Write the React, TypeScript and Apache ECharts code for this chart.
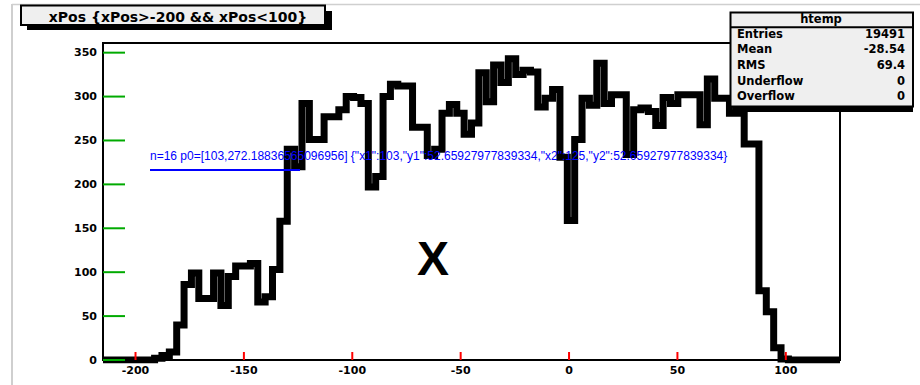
import React, { useEffect, useRef } from 'react';
import * as echarts from 'echarts';

// ---- data ----
const histTitle = 'xPos {xPos>-200 && xPos<100}';
const histName = 'htemp';
const xAxisTitle = 'X';
const xRange = [-215, 125];
const yRange = [0, 361];
const binCounts = [
  0, 0, 0, 0, 0, 0, 0, 2, 5, 9,
  40, 86, 99, 70, 70, 99, 62, 95, 107, 107,
  110, 66, 72, 103, 158, 240, 220, 292, 251, 251,
  277, 277, 285, 300, 299, 292, 197, 209, 300, 314,
  312, 312, 265, 265, 233, 240, 281, 291, 281, 257,
  270, 327, 294, 336, 316, 343, 325, 330, 328, 288,
  298, 308, 231, 159, 251, 298, 290, 338, 292, 302,
  302, 234, 285, 287, 283, 267, 299, 292, 302, 302,
  302, 268, 320, 298, 298, 281, 281, 246, 246, 79,
  55, 14, 1, 0, 0, 0, 0, 0, 0, 0,
];
const xMajorTicks = [-200, -150, -100, -50, 0, 50, 100];
const xMinorTicks = [-210, -190, -180, -170, -160, -140, -130, -120, -110, -90, -80, -70, -60,
  -40, -30, -20, -10, 10, 20, 30, 40, 60, 70, 80, 90, 110, 120];
const yMajorTicks = [0, 50, 100, 150, 200, 250, 300, 350];
const yMinorTicks = [10, 20, 30, 40, 60, 70, 80, 90, 110, 120, 130, 140, 160, 170, 180, 190,
  210, 220, 230, 240, 260, 270, 280, 290, 310, 320, 330, 340];
const statLabels = ['Entries', 'Mean', 'RMS', 'Underflow', 'Overflow'];
const statValues = ['19491', '-28.54', '69.4', '0', '0'];

const SMALL_FONT = 'DejaVu Sans';

export default function App() {
  const ref = useRef<HTMLDivElement>(null);

  useEffect(() => {
    if (!ref.current) return;
    const chart = echarts.init(ref.current, undefined, { renderer: 'svg' });

    const nBins = binCounts.length;
    const binWidth = (xRange[1] - xRange[0]) / nBins;
    const stepData: number[][] = binCounts.map((v, i) => [xRange[0] + i * binWidth, v]);
    stepData.push([xRange[1], binCounts[nBins - 1]]);

    const labelStyle = {
      color: '#000',
      fontFamily: SMALL_FONT,
      fontWeight: 'bold' as const,
      fontSize: 11,
    };

    const txt = (x: number, y: number, text: string, size: number, align: string, z: number, family = SMALL_FONT) => ({
      type: 'text', z: z, x: x, y: y,
      style: {
        text: text, fill: '#000', fontFamily: family, fontWeight: 'bold', fontSize: size,
        align: align, verticalAlign: 'middle', textAlign: align, textVerticalAlign: 'middle',
      },
    });

    const statRowY = [33.5, 49, 64.7, 80.5, 96.3];
    const base: any[] = [
      { type: 'line', z: 50, shape: { x1: 12, y1: 4.5, x2: 920, y2: 4.5 }, style: { stroke: '#cfcfcf', lineWidth: 1.5 } },
      { type: 'line', z: 50, shape: { x1: 12, y1: 4, x2: 12, y2: 385 }, style: { stroke: '#cfcfcf', lineWidth: 2 } },
      { type: 'rect', z: 60, shape: { x: 27, y: 11, width: 305, height: 19 }, style: { fill: '#000' } },
      { type: 'rect', z: 61, shape: { x: 21, y: 5.5, width: 304, height: 19.5 }, style: { fill: '#efefef', stroke: '#000', lineWidth: 2 } },
      txt(178, 16.5, histTitle, 14, 'center', 62),
      txt(433, 258, xAxisTitle, 48, 'center', 62, 'Liberation Sans'),
      { type: 'rect', z: 100, shape: { x: 733, y: 104, width: 180, height: 8 }, style: { fill: '#000' } },
      { type: 'rect', z: 101, shape: { x: 730.5, y: 12.5, width: 182.5, height: 94 }, style: { fill: '#efefef', stroke: '#000', lineWidth: 2 } },
      { type: 'line', z: 102, shape: { x1: 730.5, y1: 27.3, x2: 913, y2: 27.3 }, style: { stroke: '#000', lineWidth: 2 } },
      txt(821, 18.5, histName, 11.5, 'center', 103),
    ];
    statLabels.forEach((lab, i) => {
      base.push(txt(737, statRowY[i], lab, 11.5, 'left', 103));
      base.push(txt(905, statRowY[i], statValues[i], 11.5, 'right', 103));
    });

    chart.setOption({
      animation: false,
      grid: { left: 103, top: 43, width: 737, height: 317, show: false, outerBoundsMode: 'none' },
      xAxis: {
        type: 'value', min: xRange[0], max: xRange[1],
        splitNumber: 7, minInterval: 50, maxInterval: 50,
        axisLine: { show: false }, axisTick: { show: false }, splitLine: { show: false },
        axisLabel: {
          ...labelStyle, margin: 5,
          formatter: (v: number) => (Math.abs(v % 50) < 1e-6 ? String(v) : ''),
        },
      },
      yAxis: {
        type: 'value', min: yRange[0], max: yRange[1],
        splitNumber: 7, minInterval: 50, maxInterval: 50,
        axisLine: { show: false }, axisTick: { show: false }, splitLine: { show: false },
        axisLabel: {
          ...labelStyle, margin: 6,
          formatter: (v: number) => (Math.abs(v % 50) < 1e-6 ? String(v) : ''),
        },
      },
      series: [
        {
          type: 'line',
          data: stepData,
          step: 'end',
          showSymbol: false,
          z: 20,
          lineStyle: { color: '#000', width: 7, join: 'miter', cap: 'butt' },
        },
      ],
      graphic: base,
    } as any);

    const px = (x: number, y: number) => chart.convertToPixel({ gridIndex: 0 }, [x, y]) as number[];
    const extra: any[] = [];
    const bl = px(xRange[0], yRange[0]);
    const tr = px(xRange[1], yRange[1]);
    extra.push({ type: 'rect', z: 15, shape: { x: bl[0], y: tr[1], width: tr[0] - bl[0], height: bl[1] - tr[1] }, style: { fill: 'none', stroke: '#000', lineWidth: 2 } });
    xMajorTicks.forEach((v) => { const p = px(v, yRange[0]); extra.push({ type: 'line', z: 200, shape: { x1: p[0], y1: p[1], x2: p[0], y2: p[1] - 8 }, style: { stroke: '#f00', lineWidth: 2 } }); });
    yMajorTicks.forEach((v) => { const p = px(xRange[0], v); extra.push({ type: 'line', z: 200, shape: { x1: p[0], y1: p[1], x2: p[0] + 22, y2: p[1] }, style: { stroke: '#0a0', lineWidth: 2 } }); });
    const p0 = px(xRange[0], 100);
    extra.push({ type: 'text', z: 300, x: 150, y: 150, style: { text: 'n=' + extra.length + ' p0=' + JSON.stringify(p0) + ' ' + JSON.stringify(extra[extra.length - 1].shape), fontSize: 12, fill: '#00f' } });
    extra.push({ type: 'line', z: 300, shape: { x1: 150, y1: 170, x2: 300, y2: 170 }, style: { stroke: '#00f', lineWidth: 2 } });
    chart.setOption({ graphic: [...base, ...extra] });

    return () => chart.dispose();
  }, []);

  return <div ref={ref} style={{ position: 'absolute', left: 0, top: 0, width: 920, height: 385 }} />;
}
